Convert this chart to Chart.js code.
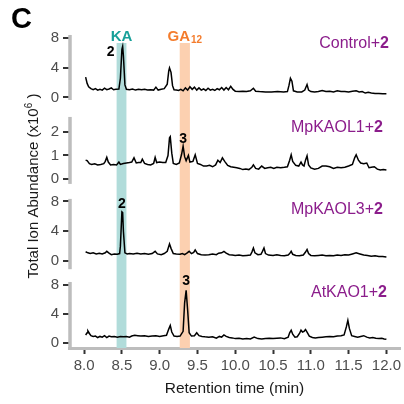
<!DOCTYPE html>
<html>
<head>
<meta charset="utf-8">
<script src="https://cdn.jsdelivr.net/npm/chart.js@4.4.1/dist/chart.umd.min.js"></script>
<style>
  html, body { margin: 0; padding: 0; background: #fff; }
  #wrap { position: relative; width: 404px; height: 404px; }
</style>
</head>
<body>
<div id="wrap"><canvas id="tic" width="404" height="404"></canvas></div>
<script>
// TIC traces, retention time (min) / abundance (x10^6)
const controlTime = [8.02,8.04,8.06,8.09,8.12,8.15,8.18,8.21,8.24,8.27,8.30,8.33,8.36,8.39,8.42,8.46,8.48,8.50,8.51,8.52,8.54,8.56,8.60,8.64,8.68,8.72,8.76,8.80,8.84,8.88,8.92,8.95,8.98,9.02,9.06,9.10,9.12,9.13,9.15,9.17,9.19,9.22,9.25,9.28,9.31,9.34,9.37,9.40,9.43,9.46,9.49,9.52,9.55,9.58,9.61,9.64,9.67,9.70,9.73,9.76,9.79,9.82,9.85,9.88,9.91,9.94,9.97,10.00,10.05,10.10,10.15,10.20,10.24,10.27,10.32,10.40,10.48,10.56,10.64,10.69,10.71,10.73,10.75,10.77,10.82,10.88,10.92,10.95,10.97,11.00,11.05,11.10,11.15,11.20,11.25,11.30,11.35,11.40,11.45,11.50,11.55,11.60,11.64,11.68,11.72,11.76,11.80,11.85,11.90,11.95,12.00];
const controlTic = [2.75,1.9,1.45,1.2,1.05,1.2,1.0,1.1,1.0,1.25,1.05,1.15,1.3,1.05,1.1,1.15,2.6,6.5,6.9,5.6,1.7,1.1,1.05,1.15,1.0,1.1,1.05,1.1,1.0,1.05,1.0,1.4,1.0,1.1,1.2,1.8,3.6,4.0,3.4,1.6,1.05,1.0,0.95,1.1,0.9,1.3,1.0,1.45,1.1,1.4,1.0,1.3,1.0,1.15,0.95,1.25,1.0,1.1,0.95,1.2,1.05,1.35,1.0,1.35,1.05,1.5,1.1,0.85,0.8,0.85,0.8,0.9,1.25,0.85,0.8,0.75,0.75,0.8,0.75,0.8,1.6,2.6,2.2,0.9,0.75,0.75,1.0,1.75,1.0,0.8,0.75,0.8,0.95,0.8,0.85,0.75,0.9,0.8,0.8,0.75,0.85,0.9,0.75,0.8,0.6,0.7,0.6,0.55,0.55,0.5,0.5];

const kaol1Time = [8.02,8.04,8.07,8.10,8.14,8.18,8.22,8.26,8.28,8.30,8.32,8.35,8.39,8.43,8.46,8.48,8.52,8.56,8.60,8.63,8.66,8.69,8.72,8.75,8.77,8.80,8.84,8.88,8.92,8.94,8.96,9.00,9.04,9.08,9.11,9.13,9.14,9.16,9.18,9.22,9.26,9.29,9.31,9.33,9.35,9.38,9.40,9.44,9.47,9.50,9.54,9.58,9.62,9.66,9.70,9.74,9.77,9.80,9.83,9.86,9.90,9.94,9.98,10.02,10.06,10.10,10.14,10.18,10.22,10.24,10.27,10.31,10.35,10.39,10.43,10.47,10.51,10.55,10.60,10.65,10.69,10.72,10.74,10.76,10.80,10.84,10.87,10.89,10.91,10.93,10.95,10.97,11.00,11.05,11.10,11.15,11.20,11.25,11.30,11.35,11.40,11.45,11.50,11.55,11.58,11.60,11.63,11.66,11.70,11.74,11.77,11.80,11.84,11.88,11.92,11.96,12.00];
const kaol1Tic = [0.8,0.78,0.65,0.62,0.65,0.6,0.62,0.65,0.75,0.92,0.72,0.6,0.62,0.6,0.72,0.62,0.66,0.68,0.7,0.72,0.9,0.68,0.7,0.7,0.84,0.66,0.62,0.6,0.66,0.92,0.7,0.72,0.7,0.7,1.0,1.75,1.8,1.1,0.66,0.62,0.68,1.05,1.4,0.95,0.78,1.0,0.72,0.75,1.03,0.66,0.62,0.55,0.55,0.58,0.52,0.6,0.8,0.7,0.9,0.75,0.58,0.52,0.5,0.48,0.45,0.4,0.42,0.4,0.5,0.6,0.45,0.42,0.55,0.45,0.48,0.5,0.45,0.5,0.48,0.5,0.52,0.8,1.03,0.75,0.58,0.55,0.72,0.6,0.55,0.8,0.99,0.6,0.47,0.42,0.45,0.55,0.55,0.52,0.45,0.5,0.48,0.5,0.55,0.62,0.9,1.03,0.8,0.68,0.65,0.68,0.48,0.5,0.52,0.42,0.38,0.4,0.38];

const kaol3Time = [8.02,8.05,8.08,8.12,8.16,8.20,8.24,8.28,8.30,8.33,8.36,8.40,8.44,8.47,8.48,8.50,8.51,8.52,8.54,8.57,8.60,8.65,8.70,8.75,8.80,8.85,8.90,8.94,8.97,9.02,9.06,9.10,9.13,9.15,9.18,9.22,9.27,9.30,9.33,9.36,9.39,9.42,9.45,9.47,9.50,9.55,9.60,9.65,9.70,9.75,9.78,9.82,9.85,9.88,9.92,9.96,10.00,10.05,10.10,10.15,10.20,10.22,10.24,10.26,10.30,10.34,10.36,10.38,10.40,10.44,10.50,10.55,10.60,10.65,10.70,10.72,10.74,10.76,10.80,10.85,10.90,10.93,10.95,10.97,11.00,11.05,11.10,11.15,11.20,11.25,11.30,11.35,11.40,11.45,11.50,11.55,11.60,11.65,11.70,11.75,11.80,11.85,11.90,11.95,12.00];
const kaol3Tic = [1.25,1.1,1.0,1.1,0.95,1.05,0.95,1.1,1.3,1.05,0.85,0.95,0.9,1.0,2.0,6.6,6.5,4.0,1.1,0.95,1.0,0.95,1.05,0.95,1.0,0.9,1.0,1.3,0.95,0.85,1.0,1.3,2.3,1.7,1.0,0.95,0.9,1.0,0.85,1.05,1.3,1.0,1.15,1.5,1.0,0.85,0.8,0.85,0.95,0.85,1.05,1.1,1.3,1.05,0.85,0.8,0.75,0.8,0.7,0.75,0.8,1.2,1.75,1.1,0.85,0.9,1.3,1.75,1.0,0.8,0.75,0.85,0.75,0.7,0.8,1.0,1.3,0.9,0.75,0.7,0.8,1.2,1.55,1.0,0.75,0.7,0.75,0.8,0.7,0.75,0.7,0.8,0.75,0.85,0.8,0.95,1.1,0.95,0.8,0.75,0.65,0.7,0.6,0.6,0.55];

const atkaoTime = [8.02,8.04,8.05,8.07,8.09,8.12,8.15,8.18,8.21,8.24,8.27,8.30,8.33,8.36,8.40,8.44,8.48,8.52,8.56,8.60,8.63,8.67,8.71,8.75,8.80,8.85,8.90,8.95,9.00,9.05,9.09,9.12,9.14,9.16,9.19,9.23,9.27,9.31,9.33,9.35,9.37,9.39,9.42,9.46,9.49,9.52,9.56,9.60,9.65,9.70,9.75,9.79,9.82,9.85,9.88,9.92,9.96,10.00,10.05,10.10,10.15,10.20,10.25,10.30,10.35,10.40,10.45,10.50,10.55,10.60,10.65,10.70,10.72,10.74,10.76,10.79,10.82,10.85,10.87,10.89,10.91,10.93,10.95,10.98,11.02,11.06,11.10,11.15,11.20,11.25,11.30,11.35,11.40,11.44,11.47,11.49,11.51,11.54,11.58,11.62,11.66,11.70,11.74,11.78,11.82,11.86,11.90,11.94,11.97,12.00];
const atkaoTic = [1.1,1.4,1.65,1.3,1.0,0.9,0.95,0.75,0.9,0.8,1.0,0.75,0.95,0.85,0.9,0.8,0.9,0.85,0.9,0.8,0.95,1.05,1.0,0.95,1.0,0.9,0.95,1.0,0.9,1.0,1.05,1.9,2.4,1.5,0.95,0.9,0.95,1.6,5.5,7.2,4.5,1.4,0.95,1.0,1.4,1.0,0.9,0.85,0.8,0.85,0.65,0.9,0.8,1.1,0.9,0.75,0.7,0.6,0.65,0.55,0.6,0.55,0.8,0.6,0.55,0.6,0.65,0.6,0.65,0.7,0.6,0.8,1.4,1.75,1.2,0.8,0.85,1.3,1.75,1.5,1.6,1.85,1.5,0.95,0.75,0.7,0.75,0.8,0.85,0.9,0.85,0.95,1.0,1.1,2.2,3.1,2.0,1.0,0.9,0.8,0.9,1.0,0.8,0.7,0.75,0.65,0.6,0.65,0.55,0.5];

const sampleNames = ['Control', 'MpKAOL1', 'MpKAOL3', 'AtKAO1'];
const substrateTag = '+2';
const yTickSets = [[0, 4, 8], [0, 1, 2], [0, 4, 8], [0, 4, 8]];
const xTicks = [8.0, 8.5, 9.0, 9.5, 10.0, 10.5, 11.0, 11.5, 12.0];

// standard windows: KA and GA12
const kaWindow = [8.43, 8.56];
const ga12Window = [9.265, 9.40];

// product peaks marked per trace: [trace, retention time, compound]
const peakMarks = [[0, 8.51, '2'], [1, 9.31, '3'], [2, 8.50, '2'], [3, 9.35, '3']];

const traces = [[controlTime, controlTic], [kaol1Time, kaol1Tic], [kaol3Time, kaol3Tic], [atkaoTime, atkaoTic]];

const FONT = "'Liberation Sans', Arial, Helvetica, sans-serif";
const AXIS_GREY = '#bdbdbd';
const TICK_DARK = '#333333';
const PURPLE = '#8b1d8b';

// y ranges per stacked panel (top to bottom), weights = slice heights
const panelRange = [[-1.42, 9.12], [-0.426, 3.02], [-1.344, 9.68], [-0.684, 9.85]];
const panelWeight = [78, 81, 82, 77];
// extent of the grey axis line in each panel (data units)
const axisSpan = [[-0.34, 8.45], [-0.21, 2.64], [-1.1, 8.35], [null, 8.35]];

function yScale(i) {
  return {
    type: 'linear',
    position: 'left',
    stack: 'tic',
    stackWeight: panelWeight[i],
    weight: 3 - i,   // higher weight is stacked higher up
    min: panelRange[i][0],
    max: panelRange[i][1],
    afterBuildTicks: s => { s.ticks = yTickSets[i].map(v => ({ value: v })); },
    afterFit: s => { s.width = 69; },
    border: { display: false },
    grid: { drawOnChartArea: false, drawTicks: true, tickLength: 6, tickColor: TICK_DARK, tickWidth: 2, lineWidth: 2 },
    ticks: { color: '#4d4d4d', padding: 4, font: { family: FONT, size: 15 } }
  };
}

const scales = {
  x: {
    type: 'linear',
    min: 7.8,
    max: 12.18,
    afterBuildTicks: s => { s.ticks = xTicks.map(v => ({ value: v })); },
    afterFit: s => { s.height = 56; },
    border: { display: true, color: AXIS_GREY, width: 3 },
    grid: { drawOnChartArea: false, drawTicks: true, tickLength: 6, tickColor: TICK_DARK, tickWidth: 2 },
    ticks: { color: '#4d4d4d', padding: 3, maxRotation: 0, autoSkip: false,
             font: { family: FONT, size: 15 }, callback: v => v.toFixed(1) },
    title: { display: true, text: 'Retention time (min)', color: '#1a1a1a',
             font: { family: FONT, size: 15.5 }, padding: { top: 0, bottom: 6 } }
  }
};
for (let i = 0; i < 4; i++) scales['y' + i] = yScale(i);

function peakValue(i, t) {
  const [ts, vs] = traces[i];
  let best = 0;
  ts.forEach((x, j) => { if (Math.abs(x - t) < 0.021 && vs[j] > best) best = vs[j]; });
  return best;
}

const decor = {
  id: 'decor',
  beforeDatasetsDraw(chart) {
    const { ctx, chartArea: ca, scales: { x } } = chart;
    ctx.save();
    ctx.fillStyle = '#b1dcda';
    ctx.fillRect(x.getPixelForValue(kaWindow[0]), ca.top + 13, x.getPixelForValue(kaWindow[1]) - x.getPixelForValue(kaWindow[0]), ca.bottom - ca.top - 13);
    ctx.fillStyle = '#fcd0b0';
    ctx.fillRect(x.getPixelForValue(ga12Window[0]), ca.top + 13, x.getPixelForValue(ga12Window[1]) - x.getPixelForValue(ga12Window[0]), ca.bottom - ca.top - 13);
    ctx.restore();
  },
  afterDraw(chart) {
    const { ctx, chartArea: ca, scales: sc } = chart;
    const x = sc.x;
    ctx.save();

    // grey axis lines of each panel
    ctx.strokeStyle = AXIS_GREY;
    ctx.lineWidth = 3.5;
    for (let i = 0; i < 4; i++) {
      const ys = sc['y' + i];
      const yb = axisSpan[i][0] === null ? ca.bottom + 1.5 : ys.getPixelForValue(axisSpan[i][0]);
      ctx.beginPath();
      ctx.moveTo(ca.left + 1, ys.getPixelForValue(axisSpan[i][1]));
      ctx.lineTo(ca.left + 1, yb);
      ctx.stroke();
    }

    // panel letter
    ctx.fillStyle = '#000';
    ctx.textAlign = 'left';
    ctx.textBaseline = 'alphabetic';
    ctx.font = `bold 29px ${FONT}`;
    ctx.fillText('C', 11, 28);

    // standard labels
    const kaMid = (x.getPixelForValue(kaWindow[0]) + x.getPixelForValue(kaWindow[1])) / 2;
    ctx.font = `bold 15px ${FONT}`;
    ctx.fillStyle = '#17a099';
    ctx.textAlign = 'center';
    ctx.fillText('KA', kaMid, 41);

    const gaMid = (x.getPixelForValue(ga12Window[0]) + x.getPixelForValue(ga12Window[1])) / 2;
    ctx.fillStyle = '#f47c2c';
    ctx.textAlign = 'left';
    const gaW = ctx.measureText('GA').width;
    ctx.font = `bold 10px ${FONT}`;
    const subW = ctx.measureText('12').width;
    const gaLeft = gaMid - (gaW + subW + 1) / 2;
    ctx.font = `bold 15px ${FONT}`;
    ctx.fillText('GA', gaLeft, 41);
    ctx.font = `bold 10px ${FONT}`;
    ctx.fillText('12', gaLeft + gaW + 1, 43);

    // sample names, right aligned, with bold substrate number
    const nameRight = [389, 383, 383, 387];
    const nameBase = [48, 131.5, 213.5, 296.5];
    for (let i = 0; i < 4; i++) {
      ctx.fillStyle = PURPLE;
      ctx.textAlign = 'right';
      ctx.font = `bold 16px ${FONT}`;
      const num = substrateTag.slice(1);
      const numW = ctx.measureText(num).width;
      ctx.fillText(num, nameRight[i], nameBase[i]);
      ctx.font = `16px ${FONT}`;
      ctx.fillText(sampleNames[i] + '+', nameRight[i] - numW, nameBase[i]);
    }

    // compound numbers over the product peaks
    const tagOffset = [[-12, -10], [0, 3.5], [0, 4], [0, 5.5]];
    ctx.fillStyle = '#000';
    ctx.textAlign = 'center';
    ctx.font = `bold 14px ${FONT}`;
    peakMarks.forEach(([i, t, label], k) => {
      const px = x.getPixelForValue(t) + tagOffset[k][0];
      const py = sc['y' + i].getPixelForValue(peakValue(i, t)) - tagOffset[k][1];
      ctx.fillText(label, px, py);
    });

    // shared y title with superscript exponent
    ctx.translate(34, 186);
    ctx.rotate(-Math.PI / 2);
    ctx.fillStyle = '#1a1a1a';
    ctx.textAlign = 'left';
    ctx.textBaseline = 'middle';
    const main = 'Total Ion Abundance (x10';
    ctx.font = `15px ${FONT}`;
    const mainW = ctx.measureText(main).width;
    ctx.font = `10px ${FONT}`;
    const supW = ctx.measureText('6').width;
    ctx.font = `15px ${FONT}`;
    const tailW = ctx.measureText(' )').width;
    let tx = -(mainW + supW + tailW) / 2;
    ctx.fillText(main, tx, 0);
    tx += mainW;
    ctx.font = `10px ${FONT}`;
    ctx.fillText('6', tx, -5);
    tx += supW;
    ctx.font = `15px ${FONT}`;
    ctx.fillText(' )', tx, 0);

    ctx.restore();
  }
};

new Chart(document.getElementById('tic'), {
  type: 'line',
  data: {
    datasets: traces.map(([ts, vs], i) => ({
      label: sampleNames[i] + substrateTag,
      data: ts.map((t, j) => ({ x: t, y: vs[j] })),
      yAxisID: 'y' + i,
      borderColor: '#000',
      borderWidth: 1.5,
      pointRadius: 0,
      tension: 0,
      fill: false
    }))
  },
  options: {
    responsive: false,
    animation: false,
    devicePixelRatio: 1,
    layout: { padding: { top: 30, left: 0, right: 0, bottom: 0 } },
    plugins: { legend: { display: false }, tooltip: { enabled: false } },
    scales
  },
  plugins: [decor]
});
</script>
</body>
</html>
